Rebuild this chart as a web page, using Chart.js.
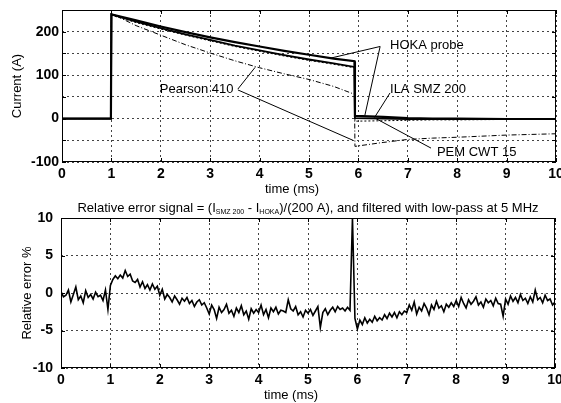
<!DOCTYPE html>
<html>
<head>
<meta charset="utf-8">
<script src="https://cdn.jsdelivr.net/npm/chart.js@4.4.0/dist/chart.umd.min.js"></script>
<style>
body { margin: 0; background: #fff; }
#wrap { position: relative; width: 561px; height: 403px; background: #fff; }
#top { position: absolute; left: 0; top: 0; }
#bottom { position: absolute; left: 0; top: 200px; }
</style>
</head>
<body>
<div id="wrap">
<canvas id="top" width="561" height="200" style="width:561px;height:200px"></canvas>
<canvas id="bottom" width="561" height="203" style="width:561px;height:203px"></canvas>
</div>
<script>
// top plot: probe currents (A) against time (ms)
var timeTop = [0, 0.99, 1.0, 1.5, 2, 2.5, 3, 3.5, 4, 4.5, 5, 5.5, 5.92, 5.93, 6.5, 7, 7.5, 8, 9, 10];
var hoka    = [0, 0, 240, 226, 212, 199, 187, 176, 166, 156, 147, 138, 132, 6, 4, 1, 0, 0, -1, -1];
var ila     = [0, 0, 240, 223, 208, 194, 181, 168, 157, 146, 136, 127, 119, 1, 0, -1, -1, -1, -1, -1];
var pem     = [0, 0, 238, 221, 206, 192, 179, 166, 155, 144, 134, 125, 117, -6, -5, -4, -3, -3, -2, -2];
var pearson = [0, 0, 242, 214, 192, 170, 151, 133, 117, 103, 90, 74, 56, -64, -55, -48, -45, -43, -38, -35];

// bottom plot: relative error %, one sample every 0.05 ms from 0 to 10 ms
var errStep = 0.05;
var errorPct = [
    0.2, -0.5, -0.3, 0.4, -1.2, -0.2, 0.8, -0.9, -0.4, -1.3, 0.3, -0.6, -0.2, -0.8, 0.1, -0.5, -0.3, -1.0, 0.4, -2.2,
    1.0, 1.8, 2.3, 1.9, 2.4, 2.0, 3.0, 2.2, 2.5, 1.6, 1.4, 1.8, 0.8, 1.5, 0.6, 1.1, 0.4, 1.2, 0.5, 0.9,
    -0.3, 0.5, -0.8, -0.2, -0.6, -1.2, -0.4, -0.9, -1.5, -0.7, -1.1, -0.6, -1.4, -1.0, -1.8, -1.2, -0.9, -1.6, -1.3, -2.0,
    -2.8, -1.6, -2.2, -3.4, -1.9, -2.6, -2.2, -1.5, -2.7, -2.3, -3.1, -2.0, -2.6, -1.7, -2.9, -2.4, -3.5, -2.1, -2.7, -2.2,
    -2.6, -1.6, -2.9, -2.2, -3.3, -2.0, -2.5, -1.9, -2.8, -2.3, -2.4, -2.6, -0.9, -2.1, -2.4, -1.8, -2.9, -2.5, -3.2, -2.3,
    -2.7, -2.2, -3.0, -2.4, -1.8, -4.6, -2.6, -2.1, -2.9, -2.3, -1.9, -2.5, -1.8, -2.2, -2.0, -2.4, -1.9, -2.3, 10, -3.4,
    -4.8, -3.6, -4.2, -3.3, -4.0, -3.5, -3.9, -3.1, -3.7, -3.3, -3.6, -2.9, -3.4, -2.7, -3.2, -2.6, -3.3, -2.5, -2.9, -2.4,
    -2.6, -1.6, -2.3, -1.2, -2.8, -1.9, -2.4, -1.4, -2.0, -2.9, -1.6, -2.2, -1.1, -2.0, -1.7, -2.5, -1.5, -1.9, -1.3, -1.8,
    -1.0, -1.8, -0.6, -1.4, -2.0, -0.9, -1.5, -1.1, -0.5, -1.6, -1.2, -1.9, -0.8, -1.3, -1.0, -1.7, -0.7, -1.4, -1.5, -3.1,
    -0.8, -1.5, -0.4, -1.1, -0.6, -1.3, -0.2, -1.0, -0.7, -1.4, -0.5, -1.2, 0.4, -0.9, -0.6, -1.3, -0.3, -1.0, -0.8, -1.6,
    -1.2
];

var xTicks = [0, 10, 1];          // min, max, step
var yTicksTop = [-100, 250, 50];
var yTicksBottom = [-10, 10, 5];

// labels with leader lines, in data units: text anchor, then [x1, y1, x2, y2]
var notesTop = [
    { text: 'HOKA probe', x: 6.64, y: 168, lines: [[6.44, 166, 5.43, 139], [6.44, 166, 6.13, 7]] },
    { text: 'ILA SMZ 200', x: 6.64, y: 68, lines: [[6.64, 59, 6.34, 5]] },
    { text: 'PEM CWT 15', x: 7.59, y: -77, lines: [[7.47, -68, 6.32, 2]] },
    { text: 'Pearson 410', x: 1.98, y: 66, lines: [[3.56, 68, 3.91, 118], [3.56, 66, 5.89, -50]] }
];

var FONT = '"Liberation Sans", Arial, sans-serif';
Chart.defaults.font.family = FONT;
Chart.defaults.font.size = 13;
Chart.defaults.color = '#000';

function xy(xs, ys) {
    return xs.map(function(x, i) { return { x: x, y: ys[i] }; });
}

function frame(cfg) {
    return {
        id: 'frame',
        afterDatasetsDraw: function(chart) {
            var ctx = chart.ctx, a = chart.chartArea;
            var sx = chart.scales.x, sy = chart.scales.y;
            ctx.save();
            ctx.strokeStyle = '#000';
            ctx.lineWidth = 1;

            // box and inward ticks
            ctx.strokeRect(a.left + 0.5, a.top + 0.5, a.right - a.left - 1, a.bottom - a.top - 1);
            ctx.beginPath();
            sx.ticks.forEach(function(t) {
                var p = Math.round(sx.getPixelForValue(t.value)) + 0.5;
                ctx.moveTo(p, a.bottom); ctx.lineTo(p, a.bottom - 4);
                ctx.moveTo(p, a.top); ctx.lineTo(p, a.top + 4);
            });
            sy.ticks.forEach(function(t) {
                var p = Math.round(sy.getPixelForValue(t.value)) + 0.5;
                ctx.moveTo(a.left, p); ctx.lineTo(a.left + 4, p);
                ctx.moveTo(a.right, p); ctx.lineTo(a.right - 4, p);
            });
            ctx.stroke();

            // annotations
            ctx.fillStyle = '#000';
            ctx.font = '13px ' + FONT;
            ctx.textAlign = 'left';
            ctx.textBaseline = 'middle';
            (cfg.notes || []).forEach(function(n) {
                n.lines.forEach(function(l) {
                    ctx.beginPath();
                    ctx.moveTo(sx.getPixelForValue(l[0]), sy.getPixelForValue(l[1]));
                    ctx.lineTo(sx.getPixelForValue(l[2]), sy.getPixelForValue(l[3]));
                    ctx.stroke();
                });
                ctx.fillText(n.text, sx.getPixelForValue(n.x), sy.getPixelForValue(n.y));
            });

            // axis labels
            var cx = (a.left + a.right) / 2, cy = (a.top + a.bottom) / 2;
            ctx.textAlign = 'center';
            ctx.fillText(cfg.xLabel, cx - 17, a.bottom + 27);
            ctx.save();
            ctx.translate(a.left - cfg.yOff, cy);
            ctx.rotate(-Math.PI / 2);
            ctx.fillText(cfg.yLabel, 0, 0);
            ctx.restore();

            // title with subscripts
            if (cfg.title) {
                var w = 0;
                cfg.title.forEach(function(p) {
                    ctx.font = (p[1] ? '7px ' : '13px ') + FONT;
                    w += ctx.measureText(p[0]).width;
                });
                var x = cx - w / 2;
                ctx.textAlign = 'left';
                cfg.title.forEach(function(p) {
                    ctx.font = (p[1] ? '7px ' : '13px ') + FONT;
                    ctx.fillText(p[0], x, a.top - 10 + (p[1] ? 4 : 0));
                    x += ctx.measureText(p[0]).width;
                });
            }
            ctx.restore();
        }
    };
}

function axes(yt, yWidth, xHeight, yPad, everyOther) {
    return {
        x: {
            type: 'linear', min: xTicks[0], max: xTicks[1],
            ticks: { stepSize: xTicks[2], padding: 4, maxRotation: 0, font: { size: 14, weight: 'bold' } },
            grid: { color: '#444', drawTicks: false },
            border: { display: false, dash: [2, 3] },
            afterFit: function(s) { s.height = xHeight; s.paddingLeft = 0; s.paddingRight = 0; }
        },
        y: {
            min: yt[0], max: yt[1],
            ticks: {
                stepSize: yt[2], padding: yPad, font: { size: 14, weight: 'bold' },
                callback: function(v) { return (everyOther && v % 100 !== 0) ? '' : v; }
            },
            grid: { color: '#444', drawTicks: false },
            border: { display: false, dash: [2, 3] },
            afterFit: function(s) { s.width = yWidth; s.paddingTop = 0; s.paddingBottom = 0; }
        }
    };
}

var common = {
    responsive: false,
    animation: false,
    elements: { point: { radius: 0 }, line: { tension: 0, borderColor: '#000', borderWidth: 1 } },
    plugins: { legend: { display: false }, tooltip: { enabled: false } }
};

new Chart(document.getElementById('top'), {
    type: 'line',
    data: {
        datasets: [
            { label: 'Pearson 410', data: xy(timeTop, pearson), borderColor: '#000', borderWidth: 1, borderDash: [5, 2, 1, 2] },
            { label: 'PEM CWT 15', data: xy(timeTop, pem), borderColor: '#000', borderWidth: 1, borderDash: [2, 2] },
            { label: 'ILA SMZ 200', data: xy(timeTop, ila), borderColor: '#000', borderWidth: 1.8 },
            { label: 'HOKA probe', data: xy(timeTop, hoka), borderColor: '#000', borderWidth: 2.2 }
        ]
    },
    options: Object.assign({}, common, {
        layout: { padding: { top: 10, right: 5, left: 0, bottom: 0 } },
        scales: axes(yTicksTop, 62, 38, 3, true)
    }),
    plugins: [frame({ notes: notesTop, xLabel: 'time (ms)', yLabel: 'Current (A)', yOff: 45 })]
});

new Chart(document.getElementById('bottom'), {
    type: 'line',
    data: {
        datasets: [
            { label: 'Relative error', data: errorPct.map(function(v, i) { return { x: i * errStep, y: v }; }), borderColor: '#000', borderWidth: 1.6 }
        ]
    },
    options: Object.assign({}, common, {
        layout: { padding: { top: 18, right: 6, left: 0, bottom: 0 } },
        scales: axes(yTicksBottom, 61, 35, 8, false)
    }),
    plugins: [frame({
        xLabel: 'time (ms)', yLabel: 'Relative error %', yOff: 34,
        title: [['Relative error signal = (I', 0], ['SMZ 200', 1], [' - I', 0], ['HOKA', 1], [')/(200 A), and filtered with low-pass at 5 MHz', 0]]
    })]
});
</script>
</body>
</html>
